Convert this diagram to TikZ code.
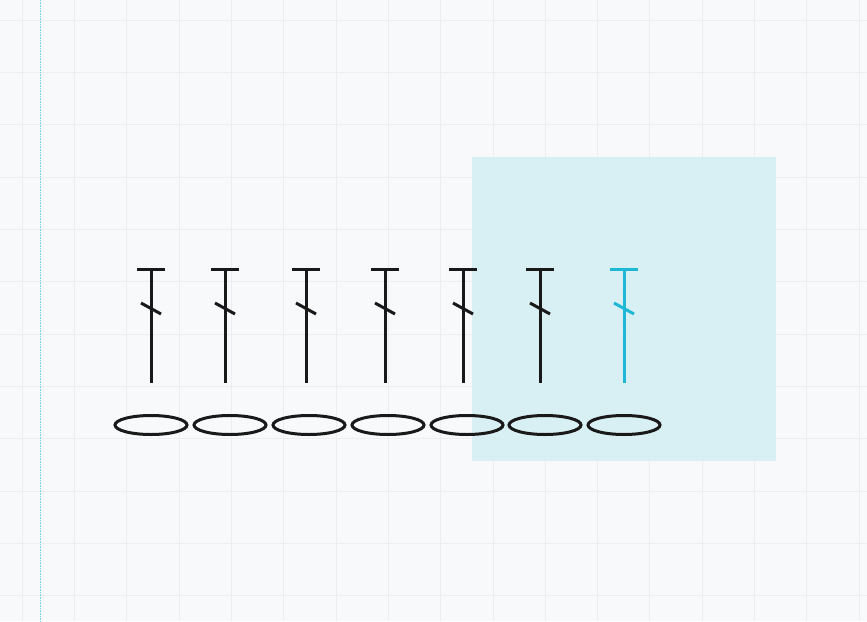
\documentclass[tikz,border=0pt]{standalone}
\usepackage{tikz}
\usetikzlibrary{positioning,shapes.geometric}
\definecolor{bgpaper}{HTML}{F8F9FB}
\definecolor{gridline}{HTML}{ECEEF2}
\definecolor{hilite}{HTML}{D5EFF4}
\definecolor{stitchblue}{HTML}{1EB8D6}
\tikzset{
  chain/.style={draw=black!90, line width=3pt, ellipse, minimum width=72pt, minimum height=19pt, inner sep=0pt},
  dc/.style={line width=3pt},
}
\newcommand{\dcstitch}[3]{% x, name, colour
  \coordinate (#2) at (#1,269);
  \draw[dc,draw=#3] ([xshift=-14pt]#2) -- ([xshift=14pt]#2);
  \draw[dc,draw=#3] (#2) -- ++(0,114);
  \draw[dc,draw=#3] ([xshift=-10pt,yshift=-34pt]#2) -- ([xshift=10pt,yshift=-45pt]#2);
}
\begin{document}
\begin{tikzpicture}[x=1pt,y=-1pt]
  \fill[bgpaper] (0,0) rectangle (867,621);
  \useasboundingbox (0,0) rectangle (867,621);
  % grid
  \foreach \g in {0,...,16} {
    \draw[gridline] (22+52.3*\g,0) -- (22+52.3*\g,621);
    \draw[gridline] (0,20+52.3*\g) -- (867,20+52.3*\g);
  }
  \draw[stitchblue!60, densely dotted, line width=0.6pt] (40,0) -- (40,621);
  % selection
  \fill[hilite, opacity=0.9] (472,157) rectangle (776,461);
  % chains
  \foreach \x [count=\i] in {151,230,309,388,467,545,624}
    {\node[chain] (ch\i) at (\x,425) {};}
  % double crochets
  \foreach \x [count=\i] in {151,225,306,385,463,540}
    {\dcstitch{\x}{dc\i}{black!90}}
  \dcstitch{624}{dc7}{stitchblue}
\end{tikzpicture}
\end{document}
